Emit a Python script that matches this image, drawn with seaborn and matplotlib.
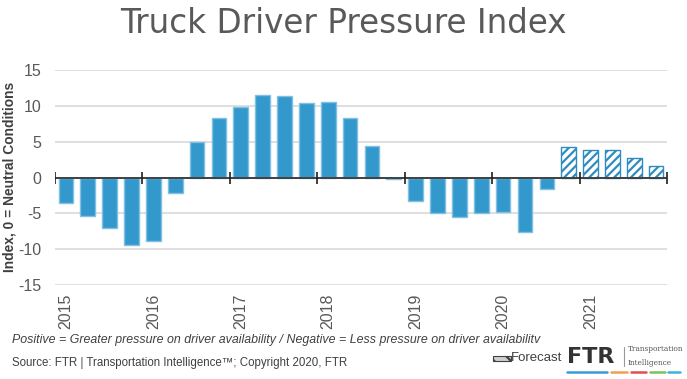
import matplotlib
matplotlib.use('Agg')
import matplotlib.pyplot as plt
import matplotlib.patches as mpatches
import pandas as pd
import seaborn as sns

# quarterly index values 2015Q1 - 2021Q4 (last 5 are forecast)
quarters = [f'{y}Q{q}' for y in range(2015, 2022) for q in range(1, 5)]
values = [-3.6, -5.3, -7.0, -9.4,
          -8.9, -2.2, 4.9, 8.3,
          9.8, 11.5, 11.4, 10.4,
          10.6, 8.3, 4.4, -0.2,
          -3.3, -5.0, -5.5, -5.0,
          -4.8, -7.6, -1.6, 4.3,
          3.8, 3.9, 2.7, 1.6]
n_forecast = 5
year_labels = ['2015', '2016', '2017', '2018', '2019', '2020', '2021']
yticks = [-15, -10, -5, 0, 5, 10, 15]

df = pd.DataFrame({'quarter': quarters, 'value': values})

bar_color = '#3399cc'
edge_color = '#7fc0e3'
text_gray = '#595959'

sns.set_style('white')
plt.rcParams['font.family'] = ['Liberation Sans', 'DejaVu Sans']
plt.rcParams['hatch.color'] = bar_color
plt.rcParams['hatch.linewidth'] = 1.6

fig = plt.figure(figsize=(6.87, 3.79), dpi=100)
ax = fig.add_axes([0.080, 0.248, 0.891, 0.567])

sns.barplot(data=df, x='quarter', y='value', color=bar_color, width=0.67,
            saturation=1, ax=ax, edgecolor=edge_color, linewidth=1)

# forecast bars hatched
for p in ax.patches[-n_forecast:]:
    p.set_facecolor('white')
    p.set_edgecolor('#2f8cc0')
    p.set_hatch('////')
    p.set_linewidth(1)

ax.set_xlim(-0.5, len(quarters) - 0.5)
ax.set_ylim(-15, 15)
ax.set_yticks(yticks)
ax.set_yticklabels([str(t) for t in yticks], fontsize=11.5, color=text_gray)
ax.yaxis.grid(True, color='#d9d9d9', linewidth=1.2)
ax.set_axisbelow(True)
ax.tick_params(axis='y', length=0, pad=10)

ax.set_xticks(range(0, len(quarters), 4))
ax.set_xticklabels(year_labels, rotation=90, fontsize=11.5, color=text_gray)
ax.tick_params(axis='x', length=0, pad=6)
ax.set_xlabel('')
ax.set_ylabel('')
for s in ax.spines.values():
    s.set_visible(False)

fig.text(0.014, 0.533, 'Index, 0 = Neutral Conditions', rotation=90, ha='center',
         va='center', fontsize=9.9, fontweight='bold', color='#404040')

# zero line with year boundary ticks
ax.axhline(0, color='#404040', linewidth=1.4, zorder=3)
bounds = [i - 0.5 for i in range(0, len(quarters) + 1, 4)]
ax.plot(bounds, [0] * len(bounds), ls='none', marker='|', ms=8, mew=1.2,
        color='#202020', zorder=4)

fig.text(0.5, 0.913, 'Truck Driver Pressure Index', ha='center', va='baseline',
         fontsize=23.5, color=text_gray, family='DejaVu Sans')

fig.text(0.017, 0.102, 'Positive = Greater pressure on driver availability / '
         'Negative = Less pressure on driver availabilitv',
         fontsize=8.9, style='italic', color='#404040', va='center')
fig.text(0.017, 0.042, 'Source: FTR | Transportation Intelligence\u2122; Copyright 2020, FTR',
         fontsize=8.3, color='#404040', va='center')

# forecast legend
fig.patches.append(mpatches.Rectangle((0.718, 0.047), 0.026, 0.014, transform=fig.transFigure,
                                      facecolor='#d0d0d0', edgecolor='#404040', hatch='\\\\',
                                      linewidth=0.8))
fig.text(0.744, 0.055, 'Forecast', fontsize=9.5, color='#404040', va='center')

# FTR logo
fig.text(0.826, 0.058, 'FTR', fontsize=16, fontweight='bold', color='#333333',
         va='center', family='DejaVu Sans')
fig.add_artist(plt.Line2D([0.908, 0.908], [0.035, 0.085], color='#999999', lw=0.8,
                          transform=fig.transFigure))
fig.text(0.914, 0.078, 'Transportation', fontsize=5.3, color='#555555', va='center',
         family='DejaVu Serif')
fig.text(0.914, 0.042, 'Intelligence', fontsize=5.3, color='#555555', va='center',
         family='DejaVu Serif')
for x0, x1, c in [(0.826, 0.884, '#3a9ad6'), (0.890, 0.912, '#f0a050'),
                  (0.918, 0.940, '#e05050'), (0.946, 0.968, '#7cc060'),
                  (0.972, 0.990, '#40b0e0')]:
    fig.add_artist(plt.Line2D([x0, x1], [0.018, 0.018], color=c, lw=1.8,
                              transform=fig.transFigure))

fig.savefig('out.png', dpi=100)
